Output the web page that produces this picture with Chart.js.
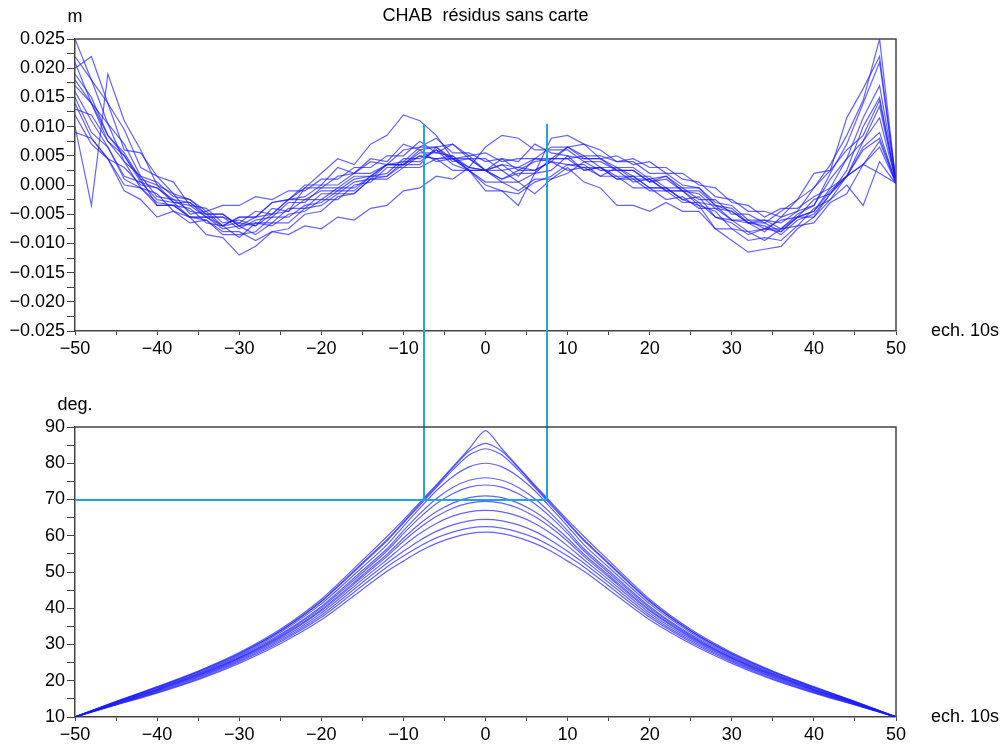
<!DOCTYPE html>
<html>
<head>
<meta charset="utf-8">
<script src="https://cdn.jsdelivr.net/npm/chart.js@4"></script>
<style>
html, body { margin: 0; padding: 0; background: #fff; }
#wrap { width: 1002px; height: 744px; }
canvas { display: block; }
</style>
</head>
<body>
<div id="wrap">
<canvas id="residChart" width="1002" height="372"></canvas>
<canvas id="elevChart" width="1002" height="372"></canvas>
</div>
<script>
// residuals, in mm, one value every 2 epochs (10 s each)
var residX = [-50,-48,-46,-44,-42,-40,-38,-36,-34,-32,-30,-28,-26,-24,-22,-20,-18,-16,-14,-12,-10,-8,-6,-4,-2,0,
    2,4,6,8,10,12,14,16,18,20,22,24,26,28,30,32,34,36,38,40,42,44,46,48,50];

var resid01 = [25,18,14,6,5.5,1.5,0.5,-3.5,-4,-6.5,-6,-7,-4,-4.5,-0.5,2,4.5,3.5,7,8.5,12,11,8.5,4.5,5,2.5,4.5,4,7,5.5,5,2.5,3,1,1.5,-0.5,-0.5,-2.5,-2,-5.5,-6.5,-8.5,-7.5,-7.5,-5,-3.5,2,7,14,21,0.5];
var resid02 = [10,-3.5,19,11,6,0,-1.5,-5,-4.5,-7,-5.5,-5.5,-3,-2.5,0,0,3,2,4.5,4,7,6,6.5,4,4.5,2.5,3.5,1.5,4.5,4,6.5,4.5,4.5,2.5,2.5,0.5,1.5,-1,-1,-3.5,-4,-6.5,-6.5,-8,-5.5,-4.5,-0.5,1.5,6,8,0.5];
var resid03 = [14,8,4.5,-1,-2.5,-5.5,-4.5,-6.5,-6,-8,-8,-9.5,-8,-8.5,-7,-7.5,-5.5,-6,-4,-3.5,-1,-0.5,1.5,1,3,2.5,3.5,3,4.5,4.5,4.5,2.5,3,1.5,1.5,-0.5,-0.5,-2.5,-3.5,-7.5,-9.5,-11.5,-11,-10.5,-7.5,-5.5,-1.5,1.5,6.5,9,0.2];
var resid04 = [18,14,7.5,4,-0.5,-1.5,-4.5,-5.5,-8.5,-9,-12,-10.5,-8,-7.5,-5,-4.5,-2,-1.5,1,1.5,4,4,6,4.5,4.5,2.5,2.5,0.5,2,2.5,5,4.5,4.5,3,3,1,1.5,-0.5,-0.5,-3.5,-4.5,-6.5,-7,-8.5,-6,-5,-1.5,2.5,10,15,0.5];
var resid05 = [21,14,10.5,4,1.5,-2,-2.5,-4.5,-5,-7,-5.5,-5.5,-3,-2.5,-0.5,-0.5,1.5,2,4,3.5,6,6.5,8,5.5,5.5,4,4.5,2.5,4,4.5,6.5,5,5,4,4.5,3,3,1,0.5,-2,-2.5,-4.5,-4.5,-5.5,-2.5,-0.5,3.5,8.5,14.5,25,0.3];
var resid06 = [13,12,7.5,5,1,-3.5,-3.5,-4,-6.5,-7,-9,-6.5,-6.5,-4,-4,-1.5,-1.5,0.5,1,3.5,3.5,6,4,4.5,3,2.5,0.5,0.5,-1.5,1,2,4,2.5,2.5,0.5,1,-1,-1,-3.5,-4.5,-7.5,-8,-9.5,-7.5,-7,-4,-2.5,1.5,3.5,7.5,0.3];
var resid07 = [16,11,6.5,1,-0.5,-3.5,-3.5,-5.5,-6,-8.5,-8.5,-8,-5.5,-5.5,-3.5,-3,-1,-1,1.5,2,4.5,4.5,6,3.5,2.5,0,-1,-3.5,2,8,8.5,7,6,4,4,2,2,0,-0.5,-3,-3.5,-6,-6,-7.5,-5.5,-4.5,-1,1.5,7.5,11.5,0.5];
var resid08 = [22,18,10.5,7,1.5,0.5,-2,-2.5,-5,-5,-7,-5.5,-5,-2.5,-2,0,0,2,2,3.5,3.5,5,4.5,5,3,6.5,8.5,8,6,6,6,4,4,2.5,2.5,0.5,1,-1,-1.5,-4,-4.5,-6.5,-6,-6.5,-4.5,-3.5,1,4.5,11.5,17,1];
var resid09 = [12,7,4.5,0,-0.5,-3,-3.5,-5.5,-5.5,-7,-6.5,-7,-5,-4.5,-2.5,-2.5,-0.5,-0.5,1.5,1.5,3.5,3.5,6.5,4.5,2.5,-1,-1,-1.5,0.5,1.5,3.5,3,3,1,1,-1,-1,-3,-3,-5.5,-6,-8,-7.5,-8,-5.5,-5.5,-2.5,0,-3.5,4,0.2];
var resid10 = [19,15,8.5,5.5,1,0,-3,-3.5,-5.5,-5.5,-6.5,-4.5,-5,-2.5,-2.5,-1,-1,1,1.5,3.5,4,6.5,6.5,7,4.5,4.5,2.5,3,2.5,4,3.5,3.5,1.5,3,1.5,1.5,-0.5,-0.5,-2.5,-2.5,-5,-5,-6.5,-4.5,-2.5,2,2.5,6,8.5,14.5,0.5];
var resid11 = [15,9,6.5,1.5,0.5,-2.5,-3,-5.5,-5.5,-7.5,-7,-8.5,-6.5,-6.5,-4,-3.5,-1.5,-1.5,1,1,3,3,4.5,2.5,2.5,0.5,0.5,-1,1,1,3,0.5,-0.5,-3.5,-3.5,-4.5,-3,-4.5,-4.5,-7.5,-7.5,-9.5,-9,-9.5,-7,-6.5,-3,-1.5,3.5,6.5,0.3];
var resid12 = [17,14,8.5,5,0.5,-0.5,-2.5,-3,-5.5,-5.5,-7.5,-6,-5.5,-3,-3,-0.5,-0.5,1.5,1.5,3.5,3.5,5.5,5.5,7,5,5.5,4,4.5,4.5,6.5,6.5,7,4.5,5,3.5,4,2,2,0,-0.5,-3,-3.5,-5.5,-4,-4,-2,-0.5,4.5,7.5,13.5,0.5];
var resid13 = [20,22,14,9.5,3,1.5,-1.5,-2.5,-4.5,-3.5,-3.5,-2,-2.5,-1,-1,1,1,3,3,5,5,7.5,5.5,5,2.5,2.5,1,2,2,4.5,4.5,5,3,3,1,1,-1,-1,-3,-3.5,-6,-6.5,-8,-5.5,-4.5,-0.5,2.5,11.5,16.5,22,0.5];
var resid14 = [9,8,4.5,3,0,-0.5,-3,-3,-5,-5,-7,-6.5,-7,-5,-4.5,-2.5,-2.5,0,0.5,3,3,5,4.5,4.5,2.5,2.5,1,2.5,2.5,4,2.5,3,1.5,1.5,-0.5,-0.5,-2.5,-2,-4,-4,-6,-6,-7.5,-6,-5.5,-2.5,-1.5,1.5,3.5,2,0.3];

// satellite elevation, in degrees
var elevX = [-50,-45,-40,-35,-30,-25,-20,-15,-12,-10,-8,-6,-4,-2,0,2,4,6,8,10,12,15,20,25,30,35,40,45,50];

var elev01 = [10,14.3,18.4,22.7,27.8,34.2,42.5,53.2,59.8,64.4,69.2,74,79,84,89,84,79,74,69.2,64.4,59.8,53.2,42.5,34.2,27.8,22.7,18.4,14.3,10];
var elev02 = [10,14.2,18.2,22.5,27.5,33.8,42,52.5,58.9,63.8,68.8,73.7,78.7,83.3,85.5,83.3,78.7,73.7,68.8,63.8,58.9,52.5,42,33.8,27.5,22.5,18.2,14.2,10];
var elev03 = [10,14.2,18.2,22.4,27.4,33.7,41.8,52.2,58.6,63.5,68.4,73.3,78.1,82.3,84,82.3,78.1,73.3,68.4,63.5,58.6,52.2,41.8,33.7,27.4,22.4,18.2,14.2,10];
var elev04 = [10,14.1,18,22.1,27.1,33.3,41.2,51.3,57.5,62.6,67.6,72.4,76.3,79,80,79,76.3,72.4,67.6,62.6,57.5,51.3,41.2,33.3,27.1,22.1,18,14.1,10];
var elev05 = [10,14,17.8,21.9,26.8,32.8,40.5,50.4,56.4,61.4,66.1,70.2,73.3,75.3,76,75.3,73.3,70.2,66.1,61.4,56.4,50.4,40.5,32.8,26.8,21.9,17.8,14,10];
var elev06 = [10,13.9,17.6,21.7,26.5,32.5,40.1,49.8,55.8,60.6,65,68.8,71.6,73.4,74,73.4,71.6,68.8,65,60.6,55.8,49.8,40.1,32.5,26.5,21.7,17.6,13.9,10];
var elev07 = [10,13.8,17.5,21.5,26.3,32.2,39.6,49.1,54.9,59.3,63.3,66.6,69,70.5,71,70.5,69,66.6,63.3,59.3,54.9,49.1,39.6,32.2,26.3,21.5,17.5,13.8,10];
var elev08 = [10,13.7,17.4,21.3,26.1,31.9,39.3,48.6,54.3,58.5,62.2,65.3,67.6,69,69.5,69,67.6,65.3,62.2,58.5,54.3,48.6,39.3,31.9,26.1,21.3,17.4,13.7,10];
var elev09 = [10,13.6,17.2,21.1,25.8,31.5,38.7,47.9,53.4,57.2,60.6,63.4,65.4,66.6,67,66.6,65.4,63.4,60.6,57.2,53.4,47.9,38.7,31.5,25.8,21.1,17.2,13.6,10];
var elev10 = [10,13.5,17,20.9,25.5,31.1,38.1,47.1,52.4,55.7,58.7,61.2,63,64.1,64.5,64.1,63,61.2,58.7,55.7,52.4,47.1,38.1,31.1,25.5,20.9,17,13.5,10];
var elev11 = [10,13.4,16.8,20.6,25.2,30.7,37.5,46.2,51.4,54.4,57.1,59.4,61,62.1,62.5,62.1,61,59.4,57.1,54.4,51.4,46.2,37.5,30.7,25.2,20.6,16.8,13.4,10];
var elev12 = [10,13.3,16.6,20.3,24.8,30.2,36.8,45.2,50.2,53,55.7,57.9,59.5,60.6,61,60.6,59.5,57.9,55.7,53,50.2,45.2,36.8,30.2,24.8,20.3,16.6,13.3,10];

// guide: epochs where elevation passes 70 deg
var guideX = [-7.5, 7.5];
var guideTop = 0.0105;
var guideElev = 70;

var residSeries = [resid01, resid02, resid03, resid04, resid05, resid06, resid07,
    resid08, resid09, resid10, resid11, resid12, resid13, resid14];
var elevSeries = [elev01, elev02, elev03, elev04, elev05, elev06,
    elev07, elev08, elev09, elev10, elev11, elev12];

var FONT = '"Liberation Sans", Arial, sans-serif';
var AXIS = "#444";
var BLUE = "rgba(25,25,255,0.68)";
var CYAN = "#1fa6da";

Chart.defaults.font.family = FONT;
Chart.defaults.font.size = 18;
Chart.defaults.color = "#000";

function minus(s) {
    return s.replace("-", "\u2212");
}

// frame, unit above the y axis, title and x axis name
var frameText = {
    id: "frameText",
    afterDraw: function (chart, args, opts) {
        var ctx = chart.ctx;
        var a = chart.chartArea;
        ctx.save();
        ctx.strokeStyle = AXIS;
        ctx.lineWidth = 1.5;
        ctx.beginPath();
        ctx.moveTo(a.left, a.top);
        ctx.lineTo(a.right, a.top);
        ctx.lineTo(a.right, a.bottom);
        ctx.stroke();
        ctx.fillStyle = "#000";
        ctx.font = "18px " + FONT;
        ctx.textBaseline = "middle";
        ctx.textAlign = "center";
        ctx.fillText(opts.unit, a.left, a.top - 22);
        if (opts.title) {
            ctx.fillText(opts.title, (a.left + a.right) / 2, a.top - 23);
        }
        ctx.textAlign = "left";
        ctx.fillText(opts.xName, a.right + 35, a.bottom);
        ctx.restore();
    }
};

// cyan guide lines running between the two plots
var guides = {
    id: "guides",
    afterDatasetsDraw: function (chart, args, opts) {
        var ctx = chart.ctx;
        var x = chart.scales.x;
        var y = chart.scales.y;
        ctx.save();
        ctx.strokeStyle = CYAN;
        ctx.lineWidth = 2;
        ctx.beginPath();
        guideX.forEach(function (g) {
            var px = Math.round(x.getPixelForValue(g));
            if (opts.upper) {
                ctx.moveTo(px, y.getPixelForValue(guideTop));
                ctx.lineTo(px, chart.height);
            } else {
                ctx.moveTo(px, 0);
                ctx.lineTo(px, y.getPixelForValue(guideElev));
            }
        });
        if (!opts.upper) {
            var py = Math.round(y.getPixelForValue(guideElev));
            ctx.moveTo(chart.chartArea.left, py);
            ctx.lineTo(x.getPixelForValue(guideX[1]), py);
        }
        ctx.stroke();
        ctx.restore();
    }
};

function makeDatasets(series, xs, scale, tension) {
    return series.map(function (vals) {
        return {
            data: vals.map(function (v, i) {
                return { x: xs[i], y: v * scale };
            }),
            borderColor: BLUE,
            borderWidth: 1.2,
            pointRadius: 0,
            tension: tension,
            fill: false
        };
    });
}

function makeOptions(cfg) {
    return {
        responsive: false,
        animation: false,
        events: [],
        layout: { padding: { top: cfg.padTop, right: 106, left: 0, bottom: 0 } },
        plugins: {
            legend: { display: false },
            tooltip: { enabled: false },
            frameText: { unit: cfg.unit, title: cfg.title, xName: "ech. 10s" },
            guides: { upper: cfg.upper }
        },
        scales: {
            x: {
                type: "linear",
                min: -50,
                max: 50,
                afterFit: function (s) { s.height = cfg.xHeight; },
                border: { display: true, color: AXIS, width: 1.5 },
                grid: { drawOnChartArea: false, drawTicks: true, tickLength: 4, color: AXIS },
                ticks: {
                    stepSize: 5,
                    autoSkip: false,
                    maxRotation: 0,
                    padding: 3,
                    callback: function (v) {
                        return v % 10 === 0 ? minus(String(v)) : "";
                    }
                }
            },
            y: {
                type: "linear",
                min: cfg.yMin,
                max: cfg.yMax,
                afterFit: function (s) { s.width = 75; },
                border: { display: true, color: AXIS, width: 1.5 },
                grid: { drawOnChartArea: false, drawTicks: true, tickLength: 8, color: AXIS },
                ticks: {
                    stepSize: cfg.yStep,
                    autoSkip: false,
                    padding: 2,
                    callback: function (v) {
                        var k = Math.round(v / cfg.yStep);
                        return k % 2 === 0 ? minus((k * cfg.yStep).toFixed(cfg.decimals)) : "";
                    }
                }
            }
        }
    };
}

new Chart(document.getElementById("residChart"), {
    type: "line",
    data: { datasets: makeDatasets(residSeries, residX, 0.001, 0) },
    options: makeOptions({
        padTop: 39, xHeight: 41, unit: "m", title: "CHAB  r\u00e9sidus sans carte",
        yMin: -0.025, yMax: 0.025, yStep: 0.0025, decimals: 3, upper: true
    }),
    plugins: [guides, frameText]
});

new Chart(document.getElementById("elevChart"), {
    type: "line",
    data: { datasets: makeDatasets(elevSeries, elevX, 1, 0.25) },
    options: makeOptions({
        padTop: 55, xHeight: 27, unit: "deg.", title: "",
        yMin: 10, yMax: 90, yStep: 5, decimals: 0, upper: false
    }),
    plugins: [guides, frameText]
});
</script>
</body>
</html>
